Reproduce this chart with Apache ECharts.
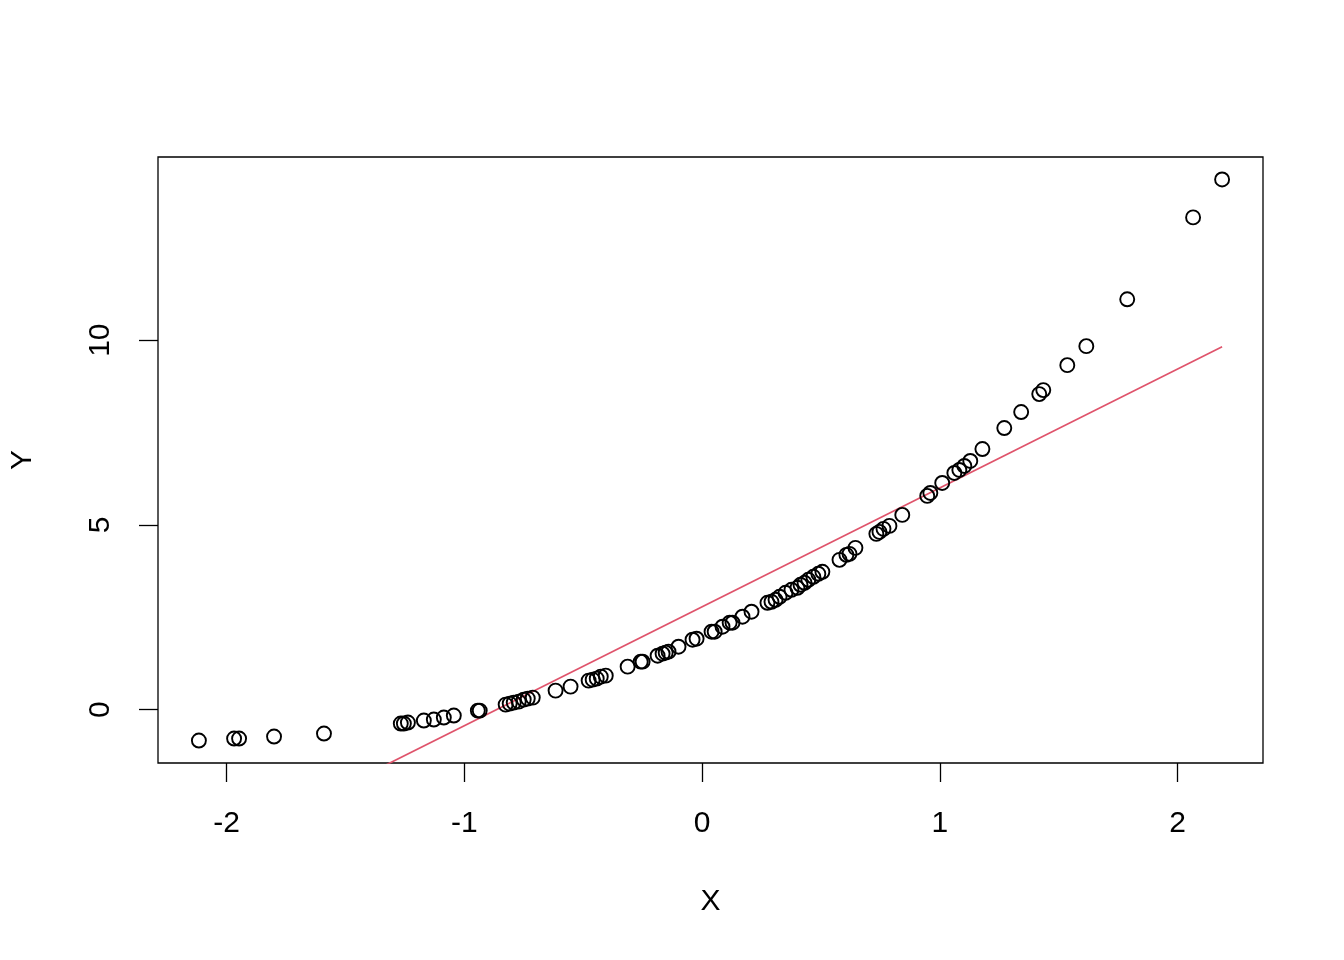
<!DOCTYPE html>
<html>
<head>
<meta charset="utf-8">
<script src="https://cdn.jsdelivr.net/npm/echarts@6/dist/echarts.min.js"></script>
<style>html,body{margin:0;padding:0;background:#fff}#c{width:1344px;height:960px}</style>
</head>
<body>
<div id="c"></div>
<script>
const xVals = [-2.116,-1.968,-1.947,-1.800,-1.590,-1.267,-1.254,-1.237,-1.170,-1.128,-1.086,-1.044,-0.943,-0.935,-0.826,-0.809,-0.792,-0.771,-0.750,-0.733,-0.712,-0.616,-0.553,-0.477,-0.460,-0.443,-0.426,-0.405,-0.313,-0.258,-0.250,-0.187,-0.166,-0.153,-0.141,-0.099,-0.040,-0.023,0.040,0.053,0.086,0.116,0.128,0.170,0.208,0.275,0.292,0.309,0.326,0.351,0.376,0.401,0.414,0.431,0.447,0.468,0.489,0.506,0.578,0.607,0.620,0.645,0.733,0.746,0.763,0.788,0.842,0.947,0.960,1.010,1.061,1.082,1.103,1.128,1.179,1.271,1.342,1.418,1.435,1.536,1.616,1.788,2.065,2.187];
const yVals = [-0.838,-0.784,-0.784,-0.730,-0.649,-0.378,-0.378,-0.351,-0.297,-0.270,-0.216,-0.162,-0.027,-0.027,0.135,0.162,0.189,0.216,0.270,0.297,0.324,0.514,0.622,0.784,0.811,0.838,0.892,0.919,1.162,1.297,1.297,1.459,1.514,1.541,1.568,1.703,1.892,1.919,2.108,2.108,2.243,2.351,2.351,2.514,2.649,2.892,2.919,2.973,3.054,3.162,3.243,3.297,3.378,3.432,3.514,3.595,3.676,3.730,4.054,4.189,4.216,4.378,4.757,4.811,4.892,4.973,5.270,5.784,5.865,6.135,6.405,6.486,6.595,6.730,7.054,7.622,8.054,8.541,8.649,9.324,9.838,11.108,13.324,14.351];
const lineX = [-2.116, 2.187];
const lineY = [-4.03, 9.82];
const xTicks = [-2, -1, 0, 1, 2];
const yTicks = [0, 5, 10];

const pts = xVals.map((x, i) => [x, yVals[i]]);
const linePts = lineX.map((x, i) => [x, lineY[i]]);
const font = 'Liberation Sans, Arial, Helvetica, sans-serif';

const chart = echarts.init(document.getElementById('c'), null, {renderer: 'canvas'});
chart.setOption({
  animation: false,
  backgroundColor: '#ffffff',
  grid: {left: 157, right: 81, top: 157, bottom: 197, show: true, borderColor: '#000', borderWidth: 1.3, backgroundColor: 'transparent'},
  xAxis: {
    type: 'value', min: -2.288, max: 2.359, position: 'bottom',
    name: 'X', nameLocation: 'middle', nameGap: 124,
    nameTextStyle: {fontFamily: font, fontSize: 30, color: '#000'},
    axisLine: {show: false, onZero: false},
    splitLine: {show: false},
    axisTick: {show: true, inside: false, length: 19, customValues: xTicks, lineStyle: {color: '#000', width: 1.3}},
    axisLabel: {customValues: xTicks, margin: 46, fontFamily: font, fontSize: 30, color: '#000'}
  },
  yAxis: {
    type: 'value', min: -1.446, max: 14.959, position: 'left',
    name: 'Y', nameLocation: 'middle', nameGap: 120, nameRotate: 90,
    nameTextStyle: {fontFamily: font, fontSize: 30, color: '#000'},
    axisLine: {show: false, onZero: false},
    splitLine: {show: false},
    axisTick: {show: true, inside: false, length: 19, customValues: yTicks, lineStyle: {color: '#000', width: 1.3}},
    axisLabel: {customValues: yTicks, rotate: 90, margin: 42, fontFamily: font, fontSize: 30, color: '#000'}
  },
  series: [
    {
      type: 'scatter', data: pts, symbol: 'circle', symbolSize: 14,
      itemStyle: {color: 'transparent', borderColor: '#000', borderWidth: 1.9, opacity: 1},
      emphasis: {disabled: true}, z: 3
    },
    {
      type: 'line', data: linePts, showSymbol: false, clip: true,
      lineStyle: {color: '#DF536B', width: 1.7}, z: 2
    }
  ]
});
</script>
</body>
</html>
